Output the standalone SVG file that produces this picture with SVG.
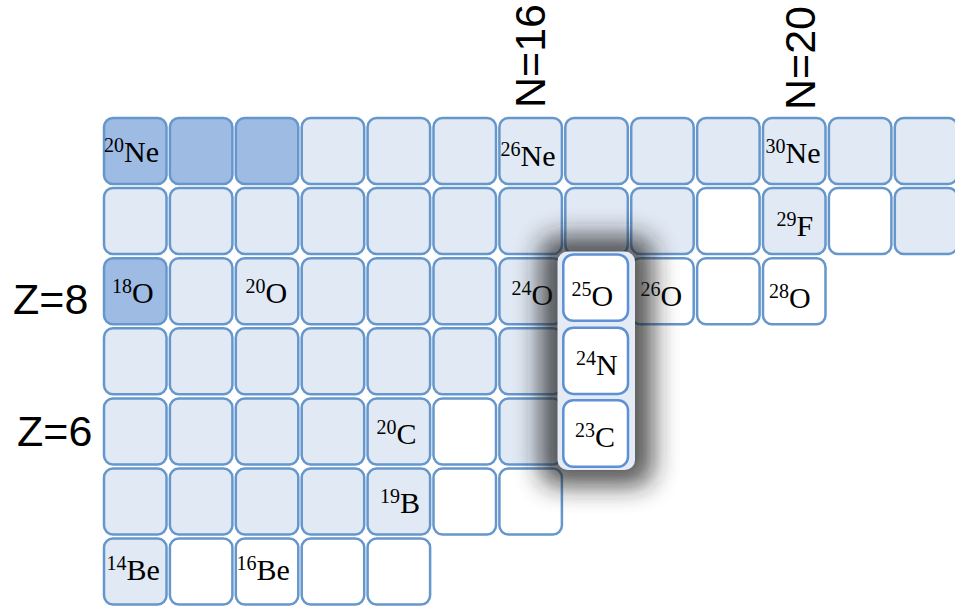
<svg xmlns="http://www.w3.org/2000/svg" width="955" height="606" viewBox="0 0 955 606">
<style>
rect.c{fill:#e1e9f4;stroke:#6596cc;stroke-width:2.5}
rect.d{fill:#9dbbe3;stroke:#6596cc;stroke-width:2.5}
rect.w{fill:#ffffff;stroke:#6596cc;stroke-width:2.5}
rect.h{fill:#ffffff;stroke:#5d90d4;stroke-width:2.5}
text.n{font-family:"Liberation Serif","Times New Roman",serif;font-size:30px;fill:#000}
tspan.s{font-size:20px}
text.lab{font-family:"Liberation Sans",Arial,sans-serif;font-size:43px;fill:#000}
</style>
<defs>
<filter id="blur" x="-60%" y="-60%" width="220%" height="220%"><feGaussianBlur stdDeviation="13"/></filter>
</defs>
<rect width="955" height="606" fill="#ffffff"/>
<g id="labels">
<text class="lab" transform="translate(545,108) rotate(-90)">N=16</text>
<text class="lab" transform="translate(815,110) rotate(-90)">N=20</text>
<text class="lab" x="13" y="314">Z=8</text>
<text class="lab" x="17" y="446">Z=6</text>
</g>
<g id="row-Ne">
<g id="Ne20"><rect class="d" x="104" y="118" width="62.5" height="66" rx="9"/><text class="n" x="104" y="162"><tspan class="s" dy="-10">20</tspan><tspan dy="10">Ne</tspan></text></g>
<g id="Ne21"><rect class="d" x="169.9" y="118" width="62.5" height="66" rx="9"/></g>
<g id="Ne22"><rect class="d" x="235.8" y="118" width="62.5" height="66" rx="9"/></g>
<g id="Ne23"><rect class="c" x="301.7" y="118" width="62.5" height="66" rx="9"/></g>
<g id="Ne24"><rect class="c" x="367.6" y="118" width="62.5" height="66" rx="9"/></g>
<g id="Ne25"><rect class="c" x="433.5" y="118" width="62.5" height="66" rx="9"/></g>
<g id="Ne26"><rect class="c" x="499.4" y="118" width="62.5" height="66" rx="9"/><text class="n" x="500.5" y="166"><tspan class="s" dy="-10">26</tspan><tspan dy="10">Ne</tspan></text></g>
<g id="Ne27"><rect class="c" x="565.3" y="118" width="62.5" height="66" rx="9"/></g>
<g id="Ne28"><rect class="c" x="631.2" y="118" width="62.5" height="66" rx="9"/></g>
<g id="Ne29"><rect class="c" x="697.1" y="118" width="62.5" height="66" rx="9"/></g>
<g id="Ne30"><rect class="c" x="763" y="118" width="62.5" height="66" rx="9"/><text class="n" x="765.5" y="163"><tspan class="s" dy="-10">30</tspan><tspan dy="10">Ne</tspan></text></g>
<g id="Ne31"><rect class="c" x="828.9" y="118" width="62.5" height="66" rx="9"/></g>
<g id="Ne32"><rect class="c" x="894.8" y="118" width="62.5" height="66" rx="9"/></g>
</g>
<g id="row-F">
<g id="F19"><rect class="c" x="104" y="188.1" width="62.5" height="66" rx="9"/></g>
<g id="F20"><rect class="c" x="169.9" y="188.1" width="62.5" height="66" rx="9"/></g>
<g id="F21"><rect class="c" x="235.8" y="188.1" width="62.5" height="66" rx="9"/></g>
<g id="F22"><rect class="c" x="301.7" y="188.1" width="62.5" height="66" rx="9"/></g>
<g id="F23"><rect class="c" x="367.6" y="188.1" width="62.5" height="66" rx="9"/></g>
<g id="F24"><rect class="c" x="433.5" y="188.1" width="62.5" height="66" rx="9"/></g>
<g id="F25"><rect class="c" x="499.4" y="188.1" width="62.5" height="66" rx="9"/></g>
<g id="F26"><rect class="c" x="565.3" y="188.1" width="62.5" height="66" rx="9"/></g>
<g id="F27"><rect class="c" x="631.2" y="188.1" width="62.5" height="66" rx="9"/></g>
<g id="F28"><rect class="w" x="697.1" y="188.1" width="62.5" height="66" rx="9"/></g>
<g id="F29"><rect class="c" x="763" y="188.1" width="62.5" height="66" rx="9"/><text class="n" x="776.5" y="236"><tspan class="s" dy="-10">29</tspan><tspan dy="10">F</tspan></text></g>
<g id="F30"><rect class="w" x="828.9" y="188.1" width="62.5" height="66" rx="9"/></g>
<g id="F31"><rect class="c" x="894.8" y="188.1" width="62.5" height="66" rx="9"/></g>
</g>
<g id="row-O">
<g id="O18"><rect class="d" x="104" y="258.2" width="62.5" height="66" rx="9"/><text class="n" x="112" y="303"><tspan class="s" dy="-10">18</tspan><tspan dy="10">O</tspan></text></g>
<g id="O19"><rect class="c" x="169.9" y="258.2" width="62.5" height="66" rx="9"/></g>
<g id="O20"><rect class="c" x="235.8" y="258.2" width="62.5" height="66" rx="9"/><text class="n" x="245.5" y="303"><tspan class="s" dy="-10">20</tspan><tspan dy="10">O</tspan></text></g>
<g id="O21"><rect class="c" x="301.7" y="258.2" width="62.5" height="66" rx="9"/></g>
<g id="O22"><rect class="c" x="367.6" y="258.2" width="62.5" height="66" rx="9"/></g>
<g id="O23"><rect class="c" x="433.5" y="258.2" width="62.5" height="66" rx="9"/></g>
<g id="O24"><rect class="c" x="499.4" y="258.2" width="62.5" height="66" rx="9"/><text class="n" x="511.5" y="305"><tspan class="s" dy="-10">24</tspan><tspan dy="10">O</tspan></text></g>
<g id="O26"><rect class="w" x="631.2" y="258.2" width="62.5" height="66" rx="9"/><text class="n" x="640.5" y="306"><tspan class="s" dy="-10">26</tspan><tspan dy="10">O</tspan></text></g>
<g id="O27"><rect class="w" x="697.1" y="258.2" width="62.5" height="66" rx="9"/></g>
<g id="O28"><rect class="w" x="763" y="258.2" width="62.5" height="66" rx="9"/><text class="n" x="769" y="307.5"><tspan class="s" dy="-10">28</tspan><tspan dy="10">O</tspan></text></g>
</g>
<g id="row-N">
<g id="N14"><rect class="c" x="104" y="328.3" width="62.5" height="66" rx="9"/></g>
<g id="N15"><rect class="c" x="169.9" y="328.3" width="62.5" height="66" rx="9"/></g>
<g id="N16"><rect class="c" x="235.8" y="328.3" width="62.5" height="66" rx="9"/></g>
<g id="N17"><rect class="c" x="301.7" y="328.3" width="62.5" height="66" rx="9"/></g>
<g id="N18"><rect class="c" x="367.6" y="328.3" width="62.5" height="66" rx="9"/></g>
<g id="N19"><rect class="c" x="433.5" y="328.3" width="62.5" height="66" rx="9"/></g>
<g id="N20"><rect class="c" x="499.4" y="328.3" width="62.5" height="66" rx="9"/></g>
</g>
<g id="row-C">
<g id="C12"><rect class="c" x="104" y="398.4" width="62.5" height="66" rx="9"/></g>
<g id="C13"><rect class="c" x="169.9" y="398.4" width="62.5" height="66" rx="9"/></g>
<g id="C14"><rect class="c" x="235.8" y="398.4" width="62.5" height="66" rx="9"/></g>
<g id="C15"><rect class="c" x="301.7" y="398.4" width="62.5" height="66" rx="9"/></g>
<g id="C20"><rect class="c" x="367.6" y="398.4" width="62.5" height="66" rx="9"/><text class="n" x="376.5" y="444"><tspan class="s" dy="-10">20</tspan><tspan dy="10">C</tspan></text></g>
<g id="C21"><rect class="w" x="433.5" y="398.4" width="62.5" height="66" rx="9"/></g>
<g id="C22"><rect class="c" x="499.4" y="398.4" width="62.5" height="66" rx="9"/></g>
</g>
<g id="row-B">
<g id="B10"><rect class="c" x="104" y="468.5" width="62.5" height="66" rx="9"/></g>
<g id="B11"><rect class="c" x="169.9" y="468.5" width="62.5" height="66" rx="9"/></g>
<g id="B12"><rect class="c" x="235.8" y="468.5" width="62.5" height="66" rx="9"/></g>
<g id="B13"><rect class="c" x="301.7" y="468.5" width="62.5" height="66" rx="9"/></g>
<g id="B19"><rect class="c" x="367.6" y="468.5" width="62.5" height="66" rx="9"/><text class="n" x="380" y="512.5"><tspan class="s" dy="-10">19</tspan><tspan dy="10">B</tspan></text></g>
<g id="B20"><rect class="w" x="433.5" y="468.5" width="62.5" height="66" rx="9"/></g>
<g id="B21"><rect class="w" x="499.4" y="468.5" width="62.5" height="66" rx="9"/></g>
</g>
<g id="row-Be">
<g id="Be14"><rect class="c" x="104" y="538.6" width="62.5" height="66" rx="9"/><text class="n" x="106.5" y="580"><tspan class="s" dy="-10">14</tspan><tspan dy="10">Be</tspan></text></g>
<g id="Be15"><rect class="w" x="169.9" y="538.6" width="62.5" height="66" rx="9"/></g>
<g id="Be16"><rect class="w" x="235.8" y="538.6" width="62.5" height="66" rx="9"/><text class="n" x="236.5" y="580"><tspan class="s" dy="-10">16</tspan><tspan dy="10">Be</tspan></text></g>
<g id="Be17"><rect class="w" x="301.7" y="538.6" width="62.5" height="66" rx="9"/></g>
<g id="Be18"><rect class="w" x="367.6" y="538.6" width="62.5" height="66" rx="9"/></g>
</g>
<g id="highlight">
<rect x="540" y="236" width="113" height="250" rx="18" fill="#1a1a1a" opacity="0.75" filter="url(#blur)"/>
<rect x="557.5" y="251.5" width="77.5" height="218.5" rx="10" fill="#e4ebf5"/>
<g id="O25"><rect class="h" x="563.3" y="254.5" width="64.7" height="66.2" rx="10"/><text class="n" x="571.5" y="306"><tspan class="s" dy="-10">25</tspan><tspan dy="10">O</tspan></text></g>
<g id="N24"><rect class="h" x="563.3" y="327.7" width="64.7" height="66.2" rx="10"/><text class="n" x="576" y="375"><tspan class="s" dy="-10">24</tspan><tspan dy="10">N</tspan></text></g>
<g id="C23"><rect class="h" x="563.3" y="400.2" width="64.7" height="66.5" rx="10"/><text class="n" x="575" y="446.5"><tspan class="s" dy="-10">23</tspan><tspan dy="10">C</tspan></text></g>
</g>
<g id="connectors"/>
</svg>
